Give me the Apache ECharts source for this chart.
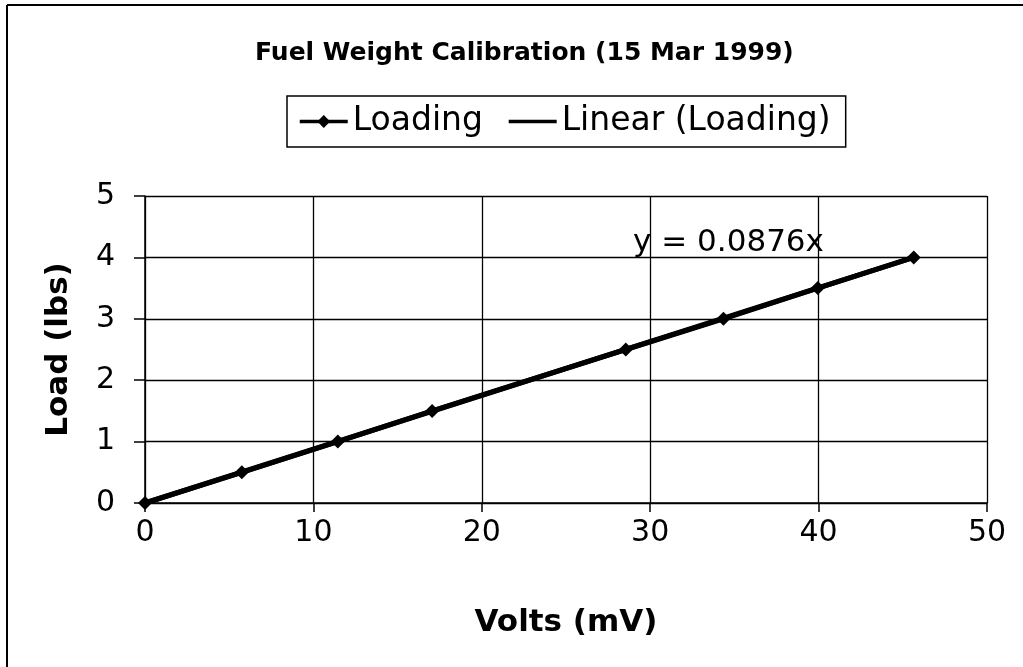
<!DOCTYPE html>
<html>
<head>
<meta charset="utf-8">
<script src="https://cdn.jsdelivr.net/npm/echarts@6/dist/echarts.min.js"></script>
<style>
  html, body { margin: 0; padding: 0; background: #fff; }
  #chart { width: 1023px; height: 667px; }
</style>
</head>
<body>
<div id="chart"></div>
<script>
// measured points (mV, lbs)
const voltsMv = [0, 5.75, 11.45, 17.05, 28.55, 34.35, 39.95, 45.65];
const loadLbs = [0, 0.5, 1, 1.5, 2.5, 3, 3.5, 4];
// linear trendline ends
const trendX = [0, 45.65];
const trendY = [0, 4.0];
const xTicks = [0, 10, 20, 30, 40, 50];
const yTicks = [0, 1, 2, 3, 4, 5];
const equationText = 'y = 0.0876x';
const equationAt = [34.65, 4.23];

const font = 'DejaVu Sans';
const chart = echarts.init(document.getElementById('chart'));

var option = {
  backgroundColor: '#fff',
  animation: false,
  title: {
    text: 'Fuel Weight Calibration (15 Mar 1999)',
    left: 250,
    top: 36,
    textStyle: { fontFamily: font, fontSize: 25, fontWeight: 'bold', color: '#000' }
  },
  legend: {
    left: 287,
    top: 96,
    padding: [9, 15, 9, 11],
    itemGap: 24,
    itemWidth: 48,
    itemHeight: 16,
    borderColor: '#000',
    borderWidth: 1.5,
    borderRadius: 0,
    lineStyle: { width: 3.5 },
    textStyle: { fontFamily: font, fontSize: 33, color: '#000' },
    data: [
      { name: 'Loading' },
      { name: 'Linear (Loading)', itemStyle: { opacity: 0 } }
    ]
  },
  grid: { left: 145, right: 36, top: 196, bottom: 164 },
  xAxis: {
    type: 'value',
    min: xTicks[0],
    max: xTicks[xTicks.length - 1],
    interval: 10,
    name: 'Volts (mV)',
    nameLocation: 'middle',
    nameGap: 104,
    nameTextStyle: { fontFamily: font, fontSize: 31, fontWeight: 'bold', color: '#000' },
    axisLine: { lineStyle: { color: '#000', width: 1.5 } },
    axisTick: { show: true, inside: false, length: 9, lineStyle: { color: '#000', width: 1.5 } },
    axisLabel: { fontFamily: font, fontSize: 30, color: '#000', margin: 15 },
    splitLine: { show: true, lineStyle: { color: '#000', width: 1.3 } }
  },
  yAxis: {
    type: 'value',
    min: yTicks[0],
    max: yTicks[yTicks.length - 1],
    interval: 1,
    name: 'Load (lbs)',
    nameLocation: 'middle',
    nameGap: 71,
    nameTextStyle: { fontFamily: font, fontSize: 31, fontWeight: 'bold', color: '#000' },
    axisLine: { show: true, lineStyle: { color: '#000', width: 1.5 } },
    axisTick: { show: true, inside: false, length: 11, lineStyle: { color: '#000', width: 1.5 } },
    axisLabel: { fontFamily: font, fontSize: 30, color: '#000', margin: 30 },
    splitLine: { show: true, lineStyle: { color: '#000', width: 1.3 } }
  },
  series: [
    {
      name: 'Linear (Loading)',
      type: 'line',
      data: trendX.map((x, i) => [x, trendY[i]]),
      showSymbol: false,
      symbol: 'none',
      lineStyle: { color: '#000', width: 5 },
      itemStyle: { color: '#000' },
      markPoint: {
        symbol: 'circle',
        symbolSize: 0,
        label: {
          show: true,
          position: 'inside',
          formatter: equationText,
          fontFamily: font,
          fontSize: 31,
          color: '#000'
        },
        data: [{ coord: equationAt }]
      },
      z: 2
    },
    {
      name: 'Loading',
      type: 'line',
      data: voltsMv.map((x, i) => [x, loadLbs[i]]),
      symbol: 'diamond',
      symbolSize: 14,
      lineStyle: { color: '#000', width: 5 },
      itemStyle: { color: '#000' },
      z: 3
    }
  ],
  graphic: [
    { type: 'line', shape: { x1: 7, y1: 5, x2: 1023, y2: 5 }, style: { stroke: '#000', lineWidth: 2 } },
    { type: 'line', shape: { x1: 7, y1: 5, x2: 7, y2: 667 }, style: { stroke: '#000', lineWidth: 2 } }
  ]
};

chart.setOption(option);
</script>
</body>
</html>
